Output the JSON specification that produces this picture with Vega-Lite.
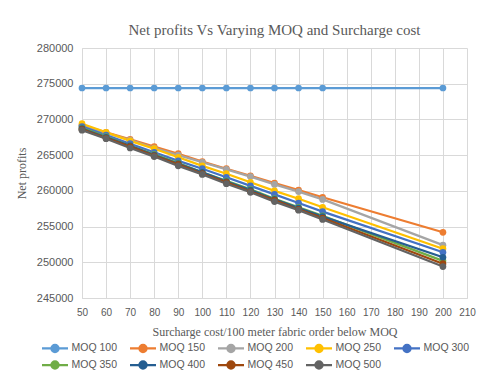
{
  "$schema": "https://vega.github.io/schema/vega-lite/v6.json",
  "width": 385,
  "height": 250,
  "autosize": "none",
  "padding": {"left": 82, "top": 48, "right": 25, "bottom": 80},
  "background": "white",
  "title": {"text": "Net profits Vs Varying MOQ and Surcharge cost", "font": "Liberation Serif", "fontSize": 15, "fontWeight": "normal", "color": "#595959", "offset": 4},
  "data": {"values": [
    {"x":50,"s":"MOQ 100","v":274400},{"x":60,"s":"MOQ 100","v":274400},{"x":70,"s":"MOQ 100","v":274400},{"x":80,"s":"MOQ 100","v":274400},{"x":90,"s":"MOQ 100","v":274400},{"x":100,"s":"MOQ 100","v":274400},{"x":110,"s":"MOQ 100","v":274400},{"x":120,"s":"MOQ 100","v":274400},{"x":130,"s":"MOQ 100","v":274400},{"x":140,"s":"MOQ 100","v":274400},{"x":150,"s":"MOQ 100","v":274400},{"x":200,"s":"MOQ 100","v":274400},
    {"x":50,"s":"MOQ 150","v":269200},{"x":60,"s":"MOQ 150","v":268200},{"x":70,"s":"MOQ 150","v":267200},{"x":80,"s":"MOQ 150","v":266200},{"x":90,"s":"MOQ 150","v":265200},{"x":100,"s":"MOQ 150","v":264100},{"x":110,"s":"MOQ 150","v":263100},{"x":120,"s":"MOQ 150","v":262100},{"x":130,"s":"MOQ 150","v":261100},{"x":140,"s":"MOQ 150","v":260100},{"x":150,"s":"MOQ 150","v":259100},{"x":200,"s":"MOQ 150","v":254200},
    {"x":50,"s":"MOQ 200","v":269100},{"x":60,"s":"MOQ 200","v":268100},{"x":70,"s":"MOQ 200","v":267100},{"x":80,"s":"MOQ 200","v":266000},{"x":90,"s":"MOQ 200","v":265000},{"x":100,"s":"MOQ 200","v":264000},{"x":110,"s":"MOQ 200","v":263000},{"x":120,"s":"MOQ 200","v":262000},{"x":130,"s":"MOQ 200","v":260900},{"x":140,"s":"MOQ 200","v":259900},{"x":150,"s":"MOQ 200","v":258800},{"x":200,"s":"MOQ 200","v":252400},
    {"x":50,"s":"MOQ 250","v":269400},{"x":60,"s":"MOQ 250","v":268200},{"x":70,"s":"MOQ 250","v":267000},{"x":80,"s":"MOQ 250","v":265900},{"x":90,"s":"MOQ 250","v":264700},{"x":100,"s":"MOQ 250","v":263500},{"x":110,"s":"MOQ 250","v":262400},{"x":120,"s":"MOQ 250","v":261200},{"x":130,"s":"MOQ 250","v":260000},{"x":140,"s":"MOQ 250","v":258900},{"x":150,"s":"MOQ 250","v":257700},{"x":200,"s":"MOQ 250","v":251900},
    {"x":50,"s":"MOQ 300","v":269000},{"x":60,"s":"MOQ 300","v":267800},{"x":70,"s":"MOQ 300","v":266600},{"x":80,"s":"MOQ 300","v":265400},{"x":90,"s":"MOQ 300","v":264200},{"x":100,"s":"MOQ 300","v":263100},{"x":110,"s":"MOQ 300","v":261900},{"x":120,"s":"MOQ 300","v":260700},{"x":130,"s":"MOQ 300","v":259500},{"x":140,"s":"MOQ 300","v":258300},{"x":150,"s":"MOQ 300","v":257100},{"x":200,"s":"MOQ 300","v":251400},
    {"x":50,"s":"MOQ 350","v":268800},{"x":60,"s":"MOQ 350","v":267600},{"x":70,"s":"MOQ 350","v":266300},{"x":80,"s":"MOQ 350","v":265100},{"x":90,"s":"MOQ 350","v":263900},{"x":100,"s":"MOQ 350","v":262600},{"x":110,"s":"MOQ 350","v":261400},{"x":120,"s":"MOQ 350","v":260200},{"x":130,"s":"MOQ 350","v":258900},{"x":140,"s":"MOQ 350","v":257700},{"x":150,"s":"MOQ 350","v":256500},{"x":200,"s":"MOQ 350","v":250200},
    {"x":50,"s":"MOQ 400","v":268700},{"x":60,"s":"MOQ 400","v":267500},{"x":70,"s":"MOQ 400","v":266300},{"x":80,"s":"MOQ 400","v":265000},{"x":90,"s":"MOQ 400","v":263800},{"x":100,"s":"MOQ 400","v":262600},{"x":110,"s":"MOQ 400","v":261300},{"x":120,"s":"MOQ 400","v":260100},{"x":130,"s":"MOQ 400","v":258800},{"x":140,"s":"MOQ 400","v":257600},{"x":150,"s":"MOQ 400","v":256400},{"x":200,"s":"MOQ 400","v":250700},
    {"x":50,"s":"MOQ 450","v":268600},{"x":60,"s":"MOQ 450","v":267400},{"x":70,"s":"MOQ 450","v":266200},{"x":80,"s":"MOQ 450","v":264900},{"x":90,"s":"MOQ 450","v":263700},{"x":100,"s":"MOQ 450","v":262400},{"x":110,"s":"MOQ 450","v":261200},{"x":120,"s":"MOQ 450","v":259900},{"x":130,"s":"MOQ 450","v":258700},{"x":140,"s":"MOQ 450","v":257400},{"x":150,"s":"MOQ 450","v":256200},{"x":200,"s":"MOQ 450","v":249800},
    {"x":50,"s":"MOQ 500","v":268500},{"x":60,"s":"MOQ 500","v":267300},{"x":70,"s":"MOQ 500","v":266000},{"x":80,"s":"MOQ 500","v":264800},{"x":90,"s":"MOQ 500","v":263500},{"x":100,"s":"MOQ 500","v":262300},{"x":110,"s":"MOQ 500","v":261000},{"x":120,"s":"MOQ 500","v":259800},{"x":130,"s":"MOQ 500","v":258500},{"x":140,"s":"MOQ 500","v":257300},{"x":150,"s":"MOQ 500","v":256000},{"x":200,"s":"MOQ 500","v":249400}
  ]},
  "mark": {"type": "line", "strokeWidth": 2.25, "point": {"filled": true, "size": 45, "opacity": 1}},
  "encoding": {
    "x": {"field": "x", "type": "quantitative", "scale": {"domain": [50, 210], "nice": false, "zero": false},
      "axis": {"values": [50,60,70,80,90,100,110,120,130,140,150,160,170,180,190,200,210], "labelOverlap": false, "labelFlush": false, "labelFontSize": 10, "title": "Surcharge cost/100 meter fabric order below MOQ", "titleFont": "Liberation Serif", "titleFontSize": 12, "titleFontWeight": "normal", "titleColor": "#595959", "titlePadding": 9, "labelPadding": 9}},
    "y": {"field": "v", "type": "quantitative", "scale": {"domain": [245000, 280000], "nice": false, "zero": false},
      "axis": {"values": [245000,250000,255000,260000,265000,270000,275000,280000], "format": "d", "labelFlush": false, "title": "Net profits", "titleFont": "Liberation Serif", "titleFontSize": 12, "titleFontWeight": "normal", "titleColor": "#595959", "titlePadding": 8, "labelPadding": 9}},
    "color": {"field": "s", "type": "nominal",
      "scale": {"domain": ["MOQ 100","MOQ 150","MOQ 200","MOQ 250","MOQ 300","MOQ 350","MOQ 400","MOQ 450","MOQ 500"],
        "range": ["#5B9BD5","#ED7D31","#A5A5A5","#FFC000","#4472C4","#70AD47","#255E91","#9E480E","#636363"]},
      "legend": {"title": null, "orient": "none", "legendX": -35, "legendY": 292, "direction": "horizontal", "columns": 5,
        "symbolType": "M-2,0H2M0.55,0A0.55,0.55,0,1,1,-0.55,0A0.55,0.55,0,1,1,0.55,0Z",
        "symbolSize": 169, "symbolStrokeWidth": 2.25, "labelFont": "Liberation Sans", "labelFontSize": 10.5, "labelColor": "#595959",
        "columnPadding": 7, "rowPadding": -4, "labelOffset": 8.5,
        "encode": {"symbols": {"update": {"fill": {"scale": "color", "field": "value"}, "fillOpacity": {"value": 1}}}}}}
  },
  "config": {
    "view": {"stroke": null},
    "axis": {"gridColor": "#d9d9d9", "domainColor": "#d9d9d9", "tickColor": "#d9d9d9", "ticks": false, "labelFont": "Liberation Sans", "labelFontSize": 11, "labelColor": "#595959"}
  }
}
